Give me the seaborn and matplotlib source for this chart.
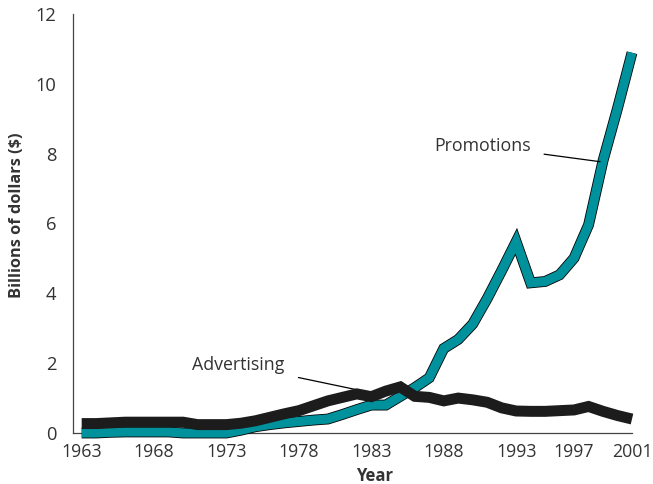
import matplotlib
matplotlib.use("Agg")
import matplotlib.pyplot as plt
import matplotlib.patheffects as pe
import numpy as np
import pandas as pd
import seaborn as sns

# Annual spending, billions of dollars
years = list(range(1963, 2002))
promotions = [0.00, 0.00, 0.02, 0.03, 0.03, 0.03, 0.03, 0.00, 0.00, 0.00,
              0.00, 0.08, 0.18, 0.24, 0.29, 0.33, 0.37, 0.40, 0.53, 0.67,
              0.80, 0.80, 1.05, 1.30, 1.58, 2.42, 2.68, 3.12, 3.85, 4.65,
              5.48, 4.30, 4.34, 4.53, 5.01, 5.96, 7.80, 9.30, 10.89]
advertising = [0.27, 0.27, 0.29, 0.31, 0.31, 0.31, 0.31, 0.31, 0.24, 0.24,
               0.24, 0.28, 0.35, 0.45, 0.55, 0.64, 0.78, 0.92, 1.02, 1.12,
               1.04, 1.20, 1.32, 1.05, 1.02, 0.92, 1.00, 0.95, 0.88, 0.72,
               0.63, 0.62, 0.62, 0.64, 0.66, 0.76, 0.62, 0.50, 0.40]
xtick_years = [1963, 1968, 1973, 1978, 1983, 1988, 1993, 1997, 2001]
yticks = [0, 2, 4, 6, 8, 10, 12]

df = pd.DataFrame({"Year": years, "Promotions": promotions,
                   "Advertising": advertising})

sns.set_theme(style="white")
plt.rcParams["font.family"] = ["Open Sans", "DejaVu Sans"]

teal = "#00929c"
dark = "#1c1c1c"
text_color = "#333333"

fig = plt.figure(figsize=(6.53, 4.84), dpi=100)
ax = fig.add_axes([73 / 653, 1 - 433 / 484, (632 - 73) / 653, (433 - 14) / 484])

sns.lineplot(data=df, x="Year", y="Promotions", ax=ax, color=teal,
             linewidth=6.6, clip_on=False, zorder=3,
             path_effects=[pe.Stroke(linewidth=7.8, foreground="black"),
                           pe.Normal()])
sns.lineplot(data=df, x="Year", y="Advertising", ax=ax, color=dark,
             linewidth=7.9, clip_on=False, zorder=4)
for line in ax.lines:
    line.set_solid_joinstyle("miter")
    line.set_solid_capstyle("butt")

ax.set_xlim(1962.4, 2001.0)
ax.set_ylim(0, 12)
ax.set_xticks(xtick_years)
ax.set_yticks(yticks)
ax.tick_params(axis="x", direction="in", length=7, width=0.9,
               color="#444444", labelsize=12.8, labelcolor=text_color, pad=7)
ax.tick_params(axis="y", direction="in", length=10, width=0.9,
               color="#444444", labelsize=13.2, labelcolor=text_color, pad=12)

for side in ("top", "right"):
    ax.spines[side].set_visible(False)
for side in ("left", "bottom"):
    ax.spines[side].set_color("#444444")
    ax.spines[side].set_linewidth(0.9)

ax.set_xlabel("Year", fontsize=12, fontweight="bold", color=text_color)
ax.xaxis.label.set_verticalalignment("center")
ax.xaxis.set_label_coords(0.54, -0.103)
ax.set_ylabel("Billions of dollars ($)", fontsize=11.8, fontweight="bold",
              color=text_color)
ax.yaxis.set_label_coords(-0.086, 0.52)

# Series labels with leader lines
ax.annotate("Promotions", xy=(1998.8, 7.77), xytext=(1990.7, 8.22),
            fontsize=12.8, color=text_color, ha="center", va="center",
            arrowprops=dict(arrowstyle="-", color="black", lw=0.9,
                            shrinkA=7, shrinkB=0))
ax.annotate("Advertising", xy=(1982.1, 1.23), xytext=(1973.8, 1.95),
            fontsize=12.8, color=text_color, ha="center", va="center",
            arrowprops=dict(arrowstyle="-", color="black", lw=0.9,
                            shrinkA=8, shrinkB=0))

fig.savefig("out.png", dpi=100)
